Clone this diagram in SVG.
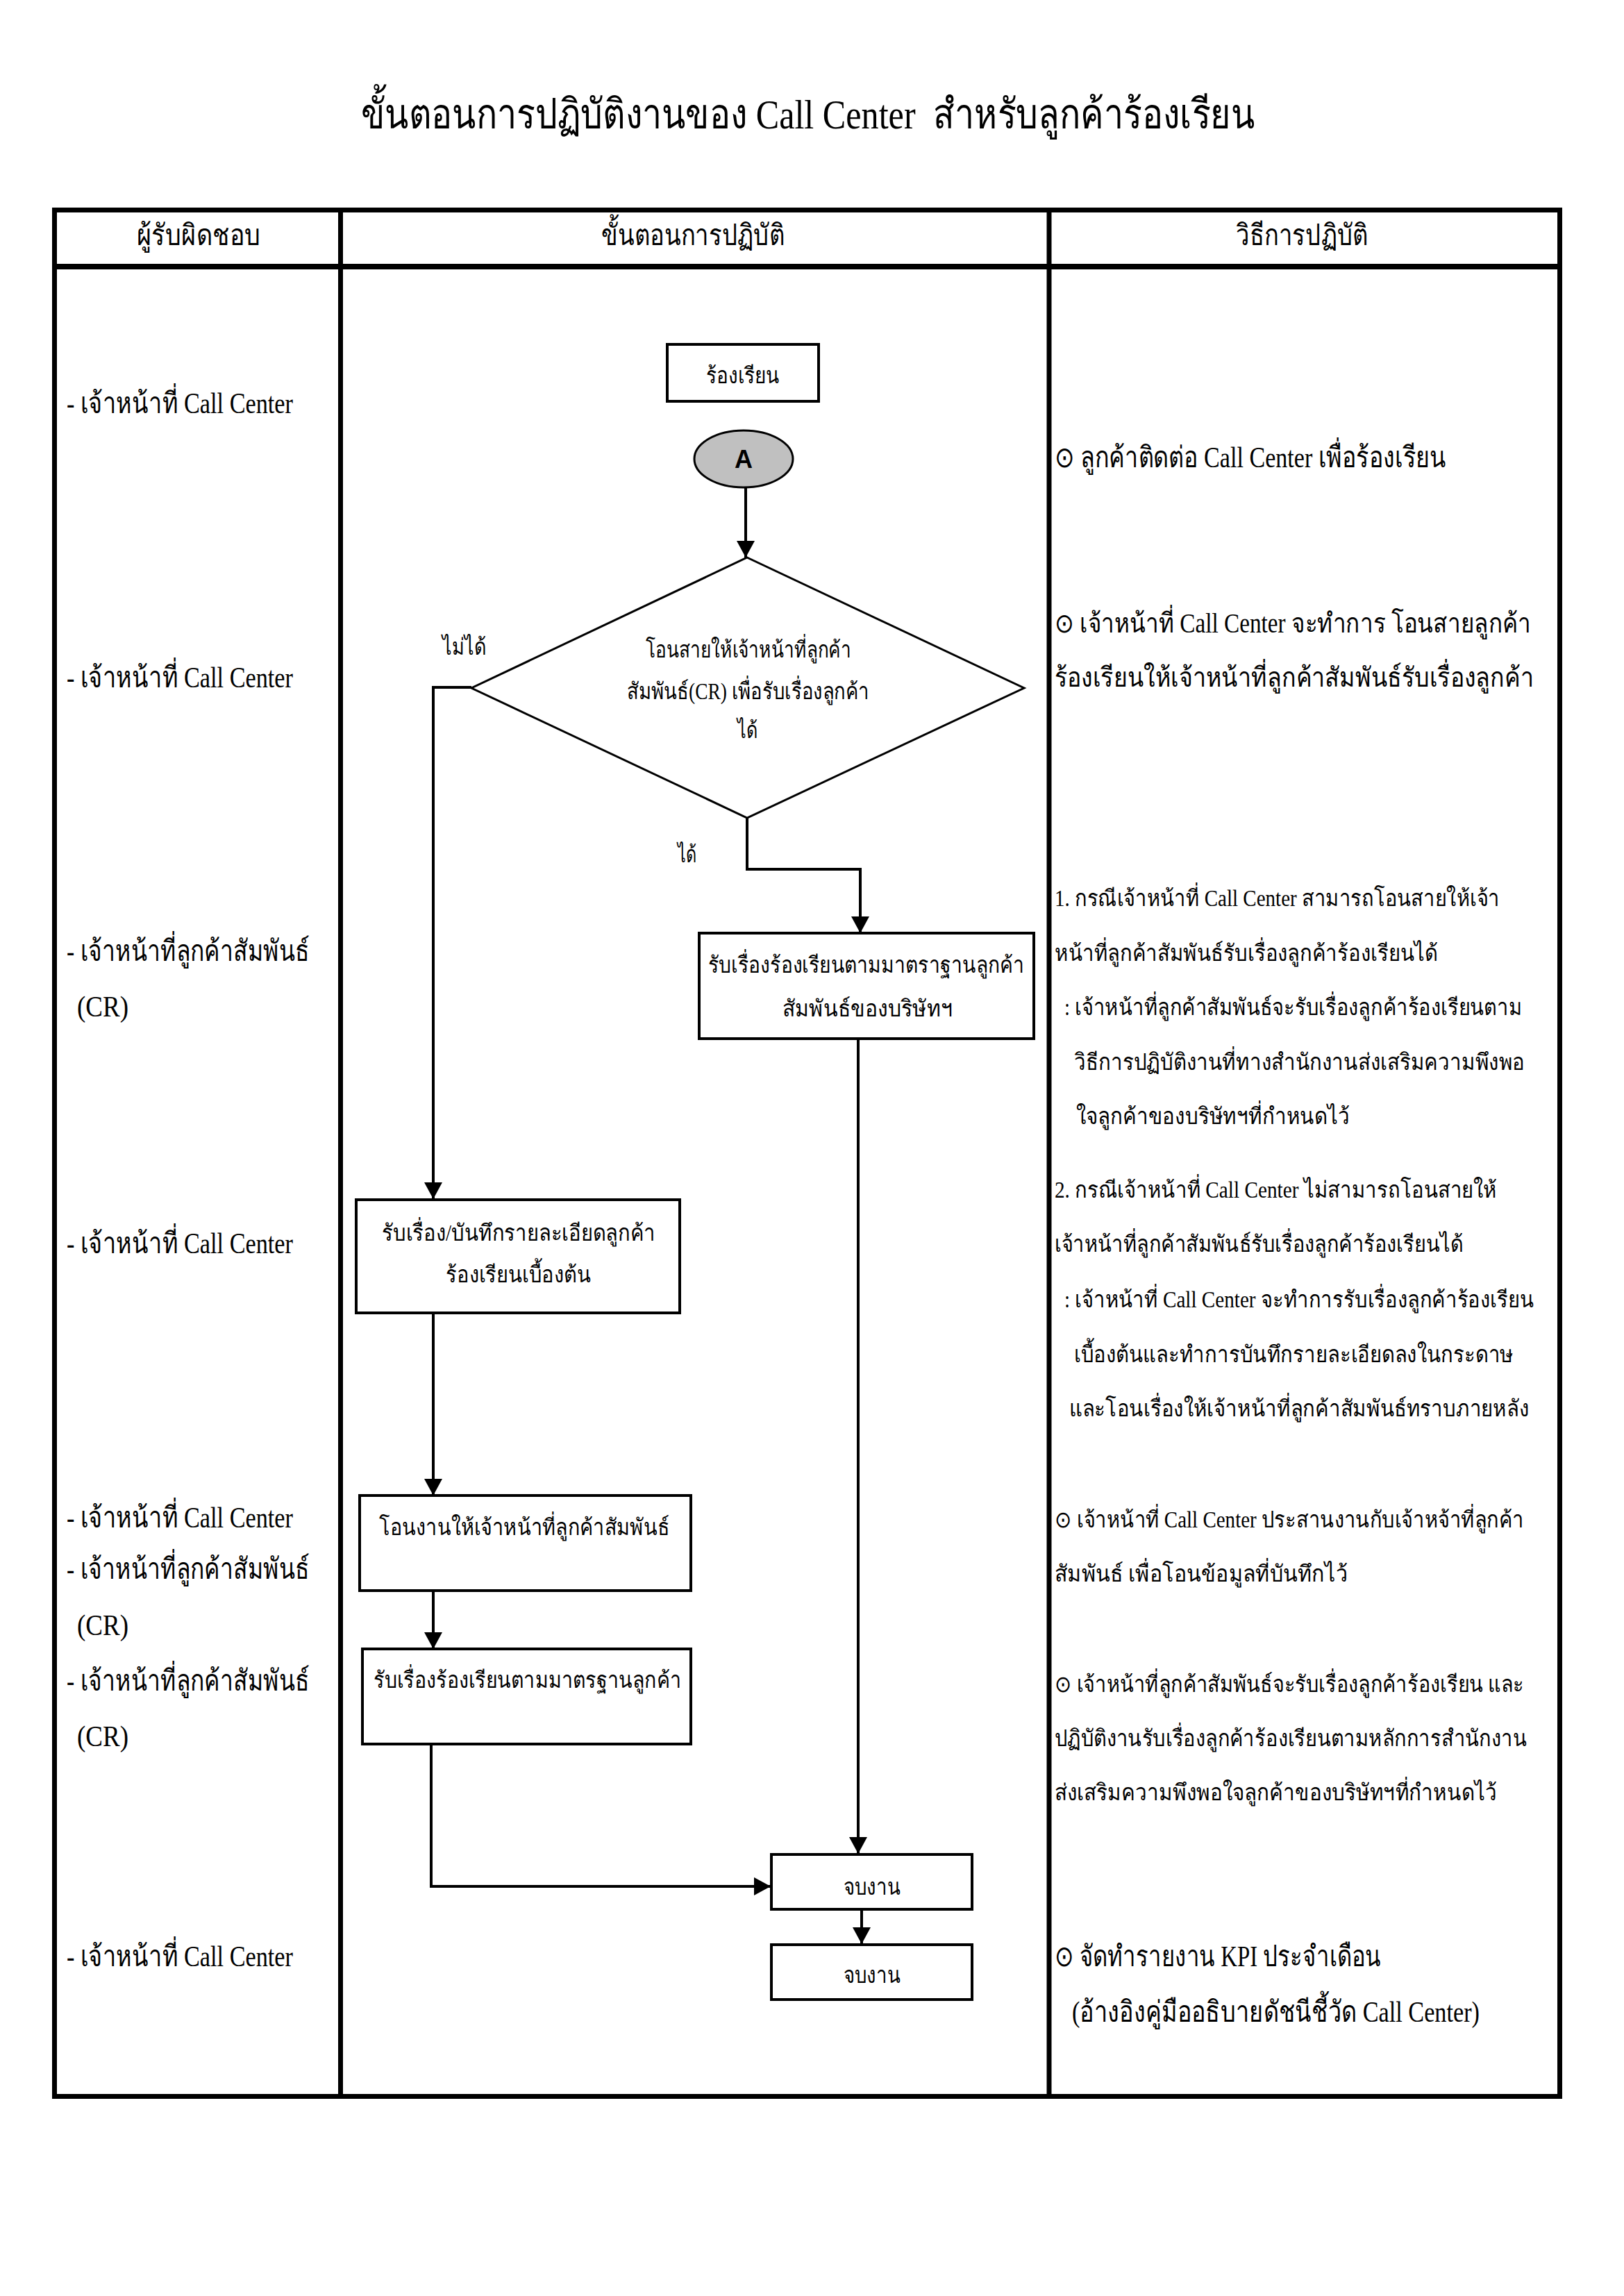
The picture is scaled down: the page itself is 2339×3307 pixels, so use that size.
<svg xmlns="http://www.w3.org/2000/svg" width="2339" height="3307" viewBox="0 0 2339 3307">
  <style>
    text { font-family: "Liberation Serif", "Noto Sans", serif; fill: #000; }
    .title { font-size: 60px; }
    .hd { font-size: 42px; }
    .big { font-size: 42px; }
    .bigr { font-size: 39px; }
    .sm { font-size: 33px; }
    .fl { font-size: 33px; }
    .mid { text-anchor: middle; }
    .grid { fill: none; stroke: #000; stroke-width: 7; }
    .box { fill: #fff; stroke: #000; stroke-width: 4; }
    .wire { fill: none; stroke: #000; stroke-width: 4; }
  </style>
  <defs>
    <marker id="arrow" markerUnits="userSpaceOnUse" markerWidth="24" markerHeight="26" viewBox="0 0 24 26" refX="24" refY="13" orient="auto">
      <path d="M0,0 L24,13 L0,26 Z" fill="#000"/>
    </marker>
  </defs>

  <rect width="2339" height="3307" fill="#fff"/>

  <!-- heading -->
  <text class="title" x="520" y="185" textLength="1287" lengthAdjust="spacingAndGlyphs">ขั้นตอนการปฏิบัติงานของ Call Center&#160; สำหรับลูกค้าร้องเรียน</text>

  <!-- table frame -->
  <g id="table">
    <rect class="grid" x="78.5" y="302.5" width="2168" height="2717"/>
    <line class="grid" x1="78" y1="384" x2="2247" y2="384" style="stroke-width:8"/>
    <line class="grid" x1="490.5" y1="302" x2="490.5" y2="3020"/>
    <line class="grid" x1="1511" y1="302" x2="1511" y2="3020"/>
    <text class="hd" x="197" y="353" textLength="178" lengthAdjust="spacingAndGlyphs">ผู้รับผิดชอบ</text>
    <text class="hd" x="866" y="353" textLength="264" lengthAdjust="spacingAndGlyphs">ขั้นตอนการปฏิบัติ</text>
    <text class="hd" x="1780" y="353" textLength="190" lengthAdjust="spacingAndGlyphs">วิธีการปฏิบัติ</text>
  </g>

  <!-- responsible column -->
  <g id="responsible">
    <text class="big" x="96" y="595" textLength="326" lengthAdjust="spacingAndGlyphs">- เจ้าหน้าที่ Call Center</text>
    <text class="big" x="96" y="990" textLength="326" lengthAdjust="spacingAndGlyphs">- เจ้าหน้าที่ Call Center</text>
    <text class="big" x="96" y="1384" textLength="350" lengthAdjust="spacingAndGlyphs">- เจ้าหน้าที่ลูกค้าสัมพันธ์</text>
    <text class="big" x="111" y="1464" textLength="74" lengthAdjust="spacingAndGlyphs">(CR)</text>
    <text class="big" x="96" y="1805" textLength="326" lengthAdjust="spacingAndGlyphs">- เจ้าหน้าที่ Call Center</text>
    <text class="big" x="96" y="2200" textLength="326" lengthAdjust="spacingAndGlyphs">- เจ้าหน้าที่ Call Center</text>
    <text class="big" x="96" y="2274" textLength="350" lengthAdjust="spacingAndGlyphs">- เจ้าหน้าที่ลูกค้าสัมพันธ์</text>
    <text class="big" x="111" y="2355" textLength="74" lengthAdjust="spacingAndGlyphs">(CR)</text>
    <text class="big" x="96" y="2435" textLength="350" lengthAdjust="spacingAndGlyphs">- เจ้าหน้าที่ลูกค้าสัมพันธ์</text>
    <text class="big" x="111" y="2515" textLength="74" lengthAdjust="spacingAndGlyphs">(CR)</text>
    <text class="big" x="96" y="2832" textLength="326" lengthAdjust="spacingAndGlyphs">- เจ้าหน้าที่ Call Center</text>
  </g>

  <!-- method column -->
  <g id="method">
    <text class="big" x="1519" y="673" textLength="564" lengthAdjust="spacingAndGlyphs">⊙ ลูกค้าติดต่อ Call Center เพื่อร้องเรียน</text>
    <text class="bigr" x="1519" y="911" textLength="686" lengthAdjust="spacingAndGlyphs">⊙ เจ้าหน้าที่ Call Center จะทำการ โอนสายลูกค้า</text>
    <text class="bigr" x="1519" y="989" textLength="690" lengthAdjust="spacingAndGlyphs">ร้องเรียนให้เจ้าหน้าที่ลูกค้าสัมพันธ์รับเรื่องลูกค้า</text>

    <text class="sm" x="1519" y="1305" textLength="641" lengthAdjust="spacingAndGlyphs">1. กรณีเจ้าหน้าที่ Call Center สามารถโอนสายให้เจ้า</text>
    <text class="sm" x="1519" y="1384" textLength="552" lengthAdjust="spacingAndGlyphs">หน้าที่ลูกค้าสัมพันธ์รับเรื่องลูกค้าร้องเรียนได้</text>
    <text class="sm" x="1533" y="1462" textLength="659" lengthAdjust="spacingAndGlyphs">: เจ้าหน้าที่ลูกค้าสัมพันธ์จะรับเรื่องลูกค้าร้องเรียนตาม</text>
    <text class="sm" x="1547" y="1541" textLength="649" lengthAdjust="spacingAndGlyphs">วิธีการปฏิบัติงานที่ทางสำนักงานส่งเสริมความพึงพอ</text>
    <text class="sm" x="1550" y="1619" textLength="394" lengthAdjust="spacingAndGlyphs">ใจลูกค้าของบริษัทฯที่กำหนดไว้</text>

    <text class="sm" x="1519" y="1725" textLength="637" lengthAdjust="spacingAndGlyphs">2. กรณีเจ้าหน้าที่ Call Center ไม่สามารถโอนสายให้</text>
    <text class="sm" x="1519" y="1803" textLength="588" lengthAdjust="spacingAndGlyphs">เจ้าหน้าที่ลูกค้าสัมพันธ์รับเรื่องลูกค้าร้องเรียนได้</text>
    <text class="sm" x="1533" y="1883" textLength="676" lengthAdjust="spacingAndGlyphs">: เจ้าหน้าที่ Call Center จะทำการรับเรื่องลูกค้าร้องเรียน</text>
    <text class="sm" x="1547" y="1962" textLength="633" lengthAdjust="spacingAndGlyphs">เบื้องต้นและทำการบันทึกรายละเอียดลงในกระดาษ</text>
    <text class="sm" x="1540" y="2040" textLength="662" lengthAdjust="spacingAndGlyphs">และโอนเรื่องให้เจ้าหน้าที่ลูกค้าสัมพันธ์ทราบภายหลัง</text>

    <text class="sm" x="1519" y="2200" textLength="676" lengthAdjust="spacingAndGlyphs">⊙ เจ้าหน้าที่ Call Center ประสานงานกับเจ้าหจ้าที่ลูกค้า</text>
    <text class="sm" x="1519" y="2278" textLength="422" lengthAdjust="spacingAndGlyphs">สัมพันธ์ เพื่อโอนข้อมูลที่บันทึกไว้</text>

    <text class="sm" x="1519" y="2437" textLength="676" lengthAdjust="spacingAndGlyphs">⊙ เจ้าหน้าที่ลูกค้าสัมพันธ์จะรับเรื่องลูกค้าร้องเรียน และ</text>
    <text class="sm" x="1519" y="2515" textLength="680" lengthAdjust="spacingAndGlyphs">ปฏิบัติงานรับเรื่องลูกค้าร้องเรียนตามหลักการสำนักงาน</text>
    <text class="sm" x="1519" y="2593" textLength="637" lengthAdjust="spacingAndGlyphs">ส่งเสริมความพึงพอใจลูกค้าของบริษัทฯที่กำหนดไว้</text>

    <text class="big" x="1519" y="2832" textLength="470" lengthAdjust="spacingAndGlyphs">⊙ จัดทำรายงาน KPI ประจำเดือน</text>
    <text class="big" x="1544" y="2912" textLength="587" lengthAdjust="spacingAndGlyphs">(อ้างอิงคู่มืออธิบายดัชนีชี้วัด Call Center)</text>
  </g>

  <!-- connectors -->
  <g id="connectors">
    <line class="wire" x1="1074" y1="702" x2="1074" y2="803" marker-end="url(#arrow)"/>
    <polyline class="wire" points="679,990 624,990 624,1727" marker-end="url(#arrow)"/>
    <polyline class="wire" points="1076,1178 1076,1252 1239,1252 1239,1344" marker-end="url(#arrow)"/>
    <line class="wire" x1="1236" y1="1496" x2="1236" y2="2670" marker-end="url(#arrow)"/>
    <line class="wire" x1="624" y1="1891" x2="624" y2="2154" marker-end="url(#arrow)"/>
    <line class="wire" x1="624" y1="2291" x2="624" y2="2375" marker-end="url(#arrow)"/>
    <polyline class="wire" points="621,2512 621,2717 1110,2717" marker-end="url(#arrow)"/>
    <line class="wire" x1="1241" y1="2750" x2="1241" y2="2800" marker-end="url(#arrow)"/>
    <text class="fl" x="637" y="943" textLength="63" lengthAdjust="spacingAndGlyphs">ไม่ได้</text>
    <text class="fl" x="976" y="1242" textLength="27" lengthAdjust="spacingAndGlyphs">ได้</text>
  </g>

  <!-- flow steps -->
  <g id="start">
    <rect class="box" x="961" y="496" width="218" height="82"/>
    <text class="fl" x="1017" y="552" textLength="106" lengthAdjust="spacingAndGlyphs">ร้องเรียน</text>
  </g>

  <g id="connector-a">
    <ellipse cx="1071" cy="661" rx="71" ry="41" fill="#c0c0c0" stroke="#000" stroke-width="3"/>
    <text x="1071" y="674" class="mid" style="font-family:'Liberation Sans', Arial, sans-serif; font-weight:bold; font-size:36px">A</text>
  </g>

  <g id="decision">
    <polygon points="1076,803 1475,991 1076,1178 679,991" fill="#fff" stroke="#000" stroke-width="3"/>
    <text class="fl" x="930" y="947" textLength="296" lengthAdjust="spacingAndGlyphs">โอนสายให้เจ้าหน้าที่ลูกค้า</text>
    <text class="fl" x="903" y="1007" textLength="349" lengthAdjust="spacingAndGlyphs">สัมพันธ์(CR) เพื่อรับเรื่องลูกค้า</text>
    <text class="fl" x="1062" y="1063" textLength="29" lengthAdjust="spacingAndGlyphs">ได้</text>
  </g>

  <g id="cr-standard">
    <rect class="box" x="1007" y="1344" width="482" height="152"/>
    <text class="fl" x="1020" y="1401" textLength="455" lengthAdjust="spacingAndGlyphs">รับเรื่องร้องเรียนตามมาตราฐานลูกค้า</text>
    <text class="fl" x="1127" y="1464" textLength="245" lengthAdjust="spacingAndGlyphs">สัมพันธ์ของบริษัทฯ</text>
  </g>

  <g id="record">
    <rect class="box" x="513" y="1728" width="466" height="163"/>
    <text class="fl" x="550" y="1787" textLength="394" lengthAdjust="spacingAndGlyphs">รับเรื่อง/บันทึกรายละเอียดลูกค้า</text>
    <text class="fl" x="642" y="1847" textLength="209" lengthAdjust="spacingAndGlyphs">ร้องเรียนเบื้องต้น</text>
  </g>

  <g id="handover">
    <rect class="box" x="518" y="2154" width="477" height="137"/>
    <text class="fl" x="546" y="2211" textLength="418" lengthAdjust="spacingAndGlyphs">โอนงานให้เจ้าหน้าที่ลูกค้าสัมพันธ์</text>
  </g>

  <g id="cr-receive">
    <rect class="box" x="522" y="2375" width="473" height="137"/>
    <text class="fl" x="538" y="2431" textLength="443" lengthAdjust="spacingAndGlyphs">รับเรื่องร้องเรียนตามมาตรฐานลูกค้า</text>
  </g>

  <g id="end-1">
    <rect class="box" x="1111" y="2671" width="289" height="79"/>
    <text class="fl" x="1215" y="2729" textLength="82" lengthAdjust="spacingAndGlyphs">จบงาน</text>
  </g>

  <g id="end-2">
    <rect class="box" x="1111" y="2801" width="289" height="79"/>
    <text class="fl" x="1215" y="2856" textLength="82" lengthAdjust="spacingAndGlyphs">จบงาน</text>
  </g>
</svg>
